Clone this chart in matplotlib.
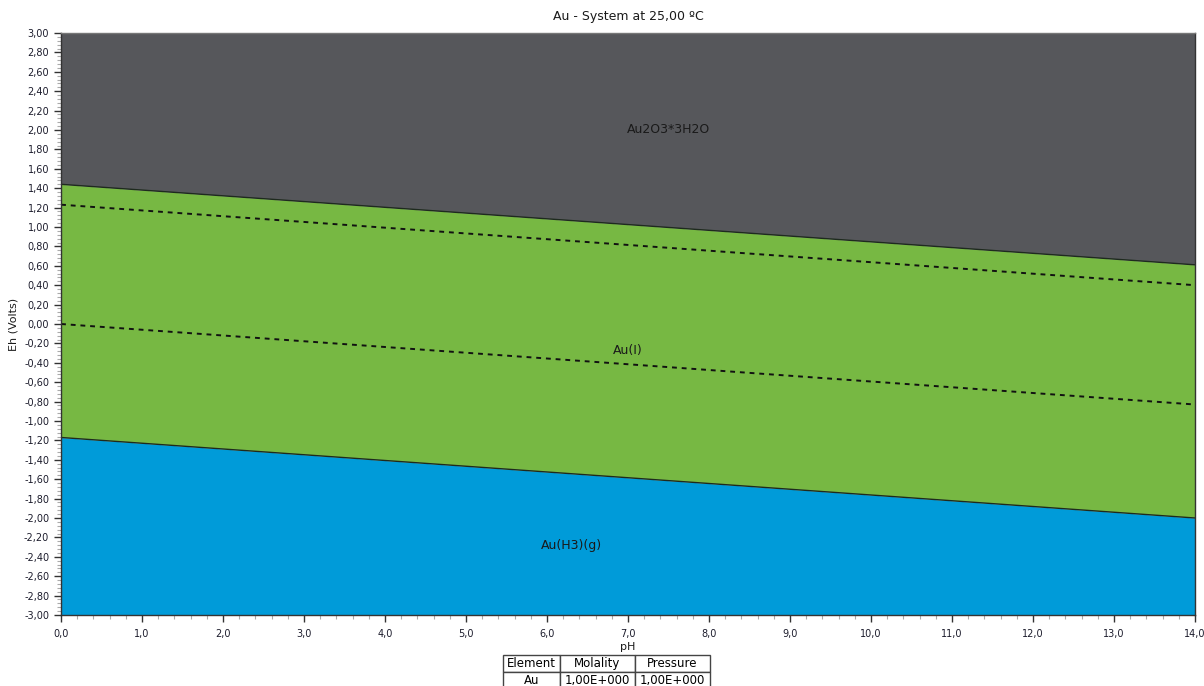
import matplotlib
matplotlib.use("Agg")
import matplotlib.pyplot as plt
from matplotlib.ticker import MultipleLocator, FuncFormatter

# Eh-pH data for the Au-H2O system at 25 °C
ph = [0.0, 14.0]
upper_boundary = [1.44, 0.61]     # Au2O3*3H2O / Au(I)
lower_boundary = [-1.17, -2.00]   # Au(I) / Au(H3)(g)
water_o2 = [1.23, 0.40]           # O2/H2O stability line
water_h2 = [0.00, -0.83]          # H2O/H2 stability line

ph_min, ph_max = 0.0, 14.0
eh_min, eh_max = -3.0, 3.0

field_labels = ["Au2O3*3H2O", "Au(I)", "Au(H3)(g)"]
label_ph = [7.5, 7.0, 6.3]
label_eh = [2.0, -0.27, -2.28]

table_cols = ["Element", "Molality", "Pressure"]
table_rows = [["Au", "1,00E+000", "1,00E+000"]]

col_top = "#56575b"
col_mid = "#77b843"
col_bot = "#009bd9"

fig = plt.figure(figsize=(12.04, 6.86), dpi=100)
ax = fig.add_axes([0.0507, 0.1035, 0.9418, 0.8484])

ax.fill_between(ph, upper_boundary, [eh_max, eh_max], color=col_top, lw=0)
ax.fill_between(ph, lower_boundary, upper_boundary, color=col_mid, lw=0)
ax.fill_between(ph, [eh_min, eh_min], lower_boundary, color=col_bot, lw=0)
ax.plot(ph, upper_boundary, color="#1e2a1e", lw=1.0)
ax.plot(ph, lower_boundary, color="#1e2a1e", lw=1.0)
ax.plot(ph, water_o2, color="#111111", lw=1.4, ls=(0, (2.5, 2.5)))
ax.plot(ph, water_h2, color="#111111", lw=1.4, ls=(0, (2.5, 2.5)))

for txt, x, y in zip(field_labels, label_ph, label_eh):
    ax.text(x, y, txt, ha="center", va="center", fontsize=9, color="#1a1a1a")

ax.set_xlim(ph_min, ph_max)
ax.set_ylim(eh_min, eh_max)

ax.xaxis.set_major_locator(MultipleLocator(1.0))
ax.xaxis.set_minor_locator(MultipleLocator(0.2))
ax.yaxis.set_major_locator(MultipleLocator(0.2))
ax.yaxis.set_minor_locator(MultipleLocator(0.04))
ax.xaxis.set_major_formatter(FuncFormatter(lambda v, p: f"{v:.1f}".replace(".", ",")))
ax.yaxis.set_major_formatter(FuncFormatter(lambda v, p: f"{v:.2f}".replace(".", ",").replace("-0,00", "0,00")))

ax.tick_params(axis="both", which="major", direction="out", length=5, width=1,
               color="#333333", labelsize=7, labelcolor="#1c1c2c")
ax.tick_params(axis="both", which="minor", direction="out", length=3, width=0.8,
               color="#aaaaaa")
ax.tick_params(axis="x", which="major", pad=5)

for s in ax.spines.values():
    s.set_color("#333333")
    s.set_linewidth(1.0)
ax.spines["top"].set_color("#777777")

ax.set_title("Au - System at 25,00 ºC", fontsize=9, color="#1a1a1a", pad=9)
ax.set_xlabel("pH", fontsize=8, color="#1a1a1a", labelpad=2)
ax.set_ylabel("Eh (Volts)", fontsize=8, color="#1a1a1a", labelpad=4)

tbl = ax.table(cellText=table_rows, colLabels=table_cols, cellLoc="center",
               colWidths=[0.050, 0.066, 0.066],
               bbox=[0.3898, -0.127, 0.1826, 0.0585])
tbl.auto_set_font_size(False)
tbl.set_fontsize(8.5)
for cell in tbl.get_celld().values():
    cell.set_edgecolor("#444444")
    cell.set_linewidth(1.0)
    cell.set_clip_on(False)

fig.savefig("out.png", dpi=100)
